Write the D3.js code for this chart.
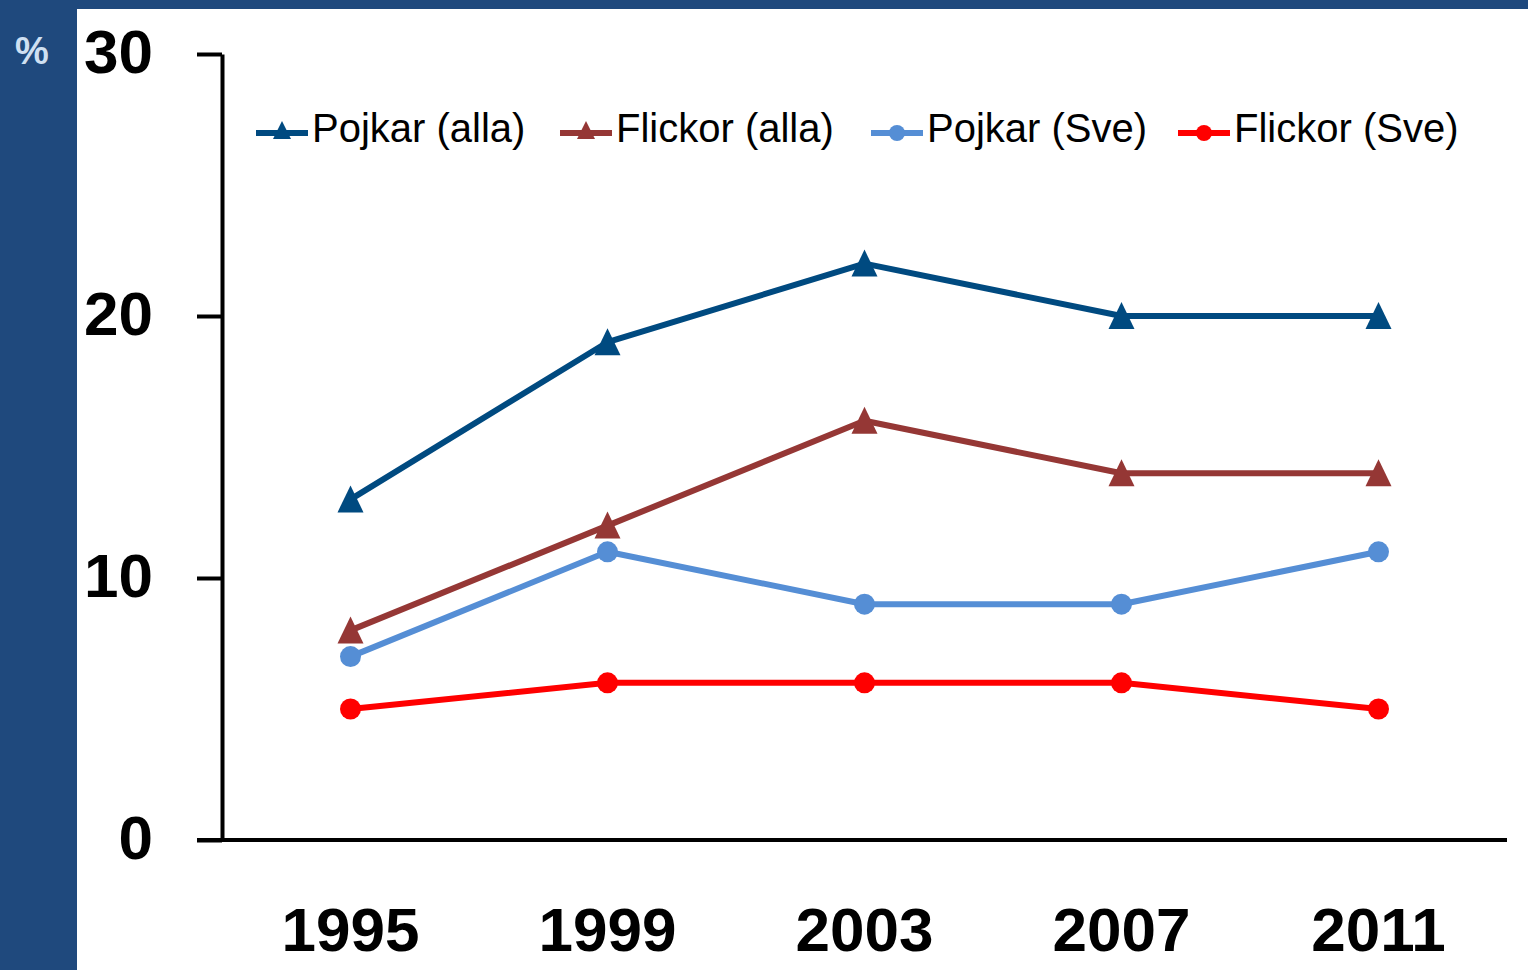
<!DOCTYPE html>
<html>
<head>
<meta charset="utf-8">
<script src="https://cdn.jsdelivr.net/npm/d3@7"></script>
<style>
  html, body { margin: 0; padding: 0; background: #fff; }
  svg { display: block; }
</style>
</head>
<body>
<svg id="chart" width="1528" height="970"></svg>
<script>
// Data
const years = ["1995", "1999", "2003", "2007", "2011"];
const pojkarAlla = [13, 19, 22, 20, 20];
const flickorAlla = [8, 12, 16, 14, 14];
const pojkarSve = [7, 11, 9, 9, 11];
const flickorSve = [5, 6, 6, 6, 5];
const yTicks = [0, 10, 20, 30];

const series = [
    { name: "Pojkar (alla)", values: pojkarAlla, color: "#004a80", marker: "triangle" },
    { name: "Flickor (alla)", values: flickorAlla, color: "#953735", marker: "triangle" },
    { name: "Pojkar (Sve)", values: pojkarSve, color: "#558ed5", marker: "circle" },
    { name: "Flickor (Sve)", values: flickorSve, color: "#ff0000", marker: "circle" }
];

const svg = d3.select("#chart");
const bandColor = "#1f497d";

// frame: left band and top strip
svg.append("rect").attr("x", 0).attr("y", 0).attr("width", 1528).attr("height", 9).attr("fill", bandColor);
svg.append("rect").attr("x", 0).attr("y", 0).attr("width", 77).attr("height", 970).attr("fill", bandColor);

svg.append("text")
    .attr("x", 32).attr("y", 64)
    .attr("text-anchor", "middle")
    .attr("font-family", "Liberation Sans, Arial, sans-serif")
    .attr("font-weight", "bold")
    .attr("font-size", 38)
    .attr("fill", "#cfe0f2")
    .text("%");

const plot = { left: 222, right: 1507, top: 54, bottom: 840 };

const x = d3.scaleBand().domain(years).range([plot.left, plot.right]);
const y = d3.scaleLinear().domain([0, 30]).range([plot.bottom, plot.top]);
const cx = d => x(d) + x.bandwidth() / 2;

const font = "Liberation Sans, Arial, sans-serif";

// y axis
const yAxis = svg.append("g")
    .attr("transform", `translate(${plot.left},0)`)
    .call(d3.axisLeft(y).tickValues(yTicks).tickSize(25).tickPadding(44).tickSizeOuter(0));
yAxis.select(".domain").attr("stroke", "#000").attr("stroke-width", 4);
yAxis.selectAll(".tick line").attr("stroke", "#000").attr("stroke-width", 4);
yAxis.selectAll(".tick text")
    .attr("font-family", font).attr("font-weight", "bold")
    .attr("font-size", 62).attr("fill", "#000").attr("dy", "0.3em");

// x axis
const xAxis = svg.append("g")
    .attr("transform", `translate(0,${y(0)})`)
    .call(d3.axisBottom(x).tickSize(0).tickPadding(80).tickSizeOuter(0));
xAxis.select(".domain").attr("stroke", "#000").attr("stroke-width", 4)
    .attr("d", `M${plot.left - 25},0H${plot.right}`);
xAxis.selectAll(".tick text")
    .attr("font-family", font).attr("font-weight", "bold")
    .attr("font-size", 62).attr("fill", "#000").attr("dy", "0.5em");

// markers
const triPath = "M0,-14L13,13L-13,13Z";
function drawMarker(g, type, color, px, py) {
    if (type === "triangle") {
        g.append("path").attr("d", triPath)
            .attr("transform", `translate(${px},${py})`)
            .attr("fill", color);
    } else {
        g.append("circle").attr("cx", px).attr("cy", py).attr("r", 10.5).attr("fill", color);
    }
}

const line = d3.line().x((d, i) => cx(years[i])).y(d => y(d));

series.forEach(s => {
    const g = svg.append("g");
    g.append("path")
        .attr("d", line(s.values))
        .attr("fill", "none")
        .attr("stroke", s.color)
        .attr("stroke-width", 6)
        .attr("stroke-linejoin", "round");
    s.values.forEach((v, i) => drawMarker(g, s.marker, s.color, cx(years[i]), y(v)));
});

// legend
const legendX = [256, 560, 871, 1178];
const legendY = 129;
series.forEach((s, i) => {
    const g = svg.append("g").attr("transform", `translate(${legendX[i]},${legendY})`);
    g.append("line").attr("x1", 0).attr("x2", 52).attr("y1", 4).attr("y2", 4)
        .attr("stroke", s.color).attr("stroke-width", 6);
    if (s.marker === "triangle") {
        g.append("path").attr("d", "M0,-9L9,9L-9,9Z")
            .attr("transform", `translate(26,1)`).attr("fill", s.color);
    } else {
        g.append("circle").attr("cx", 26).attr("cy", 4).attr("r", 8).attr("fill", s.color);
    }
    g.append("text")
        .attr("x", 56).attr("y", 13)
        .attr("font-family", font)
        .attr("font-size", 40)
        .attr("fill", "#000")
        .text(s.name);
});
</script>
</body>
</html>
